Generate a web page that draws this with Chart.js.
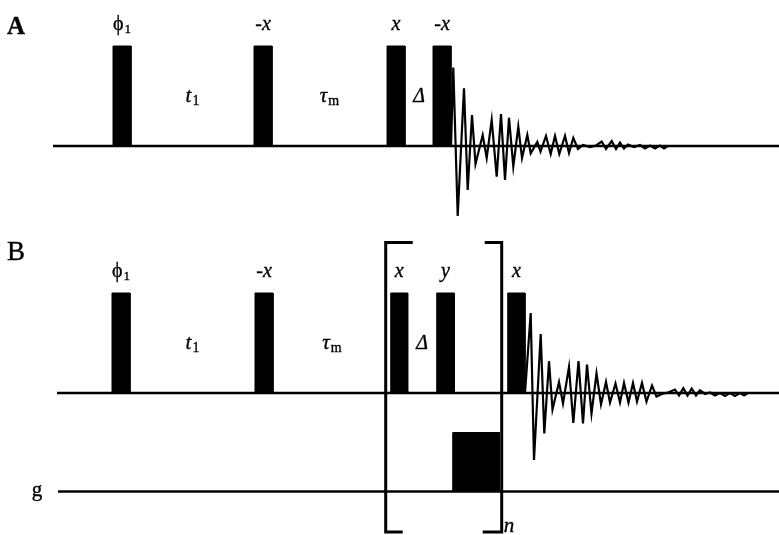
<!DOCTYPE html>
<html>
<head>
<meta charset="utf-8">
<script src="https://cdn.jsdelivr.net/npm/chart.js@4.4.1/dist/chart.umd.min.js"></script>
<style>
  html, body { margin: 0; padding: 0; background: #fff; }
  canvas { display: block; }
</style>
</head>
<body>
<canvas id="seq" width="779" height="535"></canvas>
<script>
// Pulse sequence diagram. Time runs in arbitrary units along x;
// amplitudes are given relative to each channel's baseline (nominal RF pulse = 1).

// Sequence A: phi1 - t1 - (-x) - tau_m - x - Delta - (-x) - acquire
const pulseStartA = [113, 254, 387, 433];
const pulseEndA   = [131, 272, 405, 451];
const pulsePhaseA = ['ϕ', '-x', 'x', '-x'];
const pulseSubA   = ['1', '', '', ''];
const delayNameA  = ['t', 'τ', 'Δ'];
const delaySubA   = ['1', 'm', ''];

// FID recorded after the last pulse of A
const fidTimeA = [451, 453.3, 457.7, 464, 467.7, 472, 475.5, 482.7, 486.7, 491.7,
                  496.7, 501, 505, 509, 513.3, 518.3, 522, 527.3, 530.7, 537.3,
                  540.5, 546, 550.7, 555, 559.3, 565, 569, 573.3, 578, 583,
                  590, 596, 601.7, 606, 611.7, 616, 620, 624, 628, 634,
                  640, 645, 650, 655, 660, 664, 668];
const fidAmpA  = [0, 0.785, -0.70, 0.577, -0.44, 0.31, -0.18, 0.11, -0.12, 0.26,
                  -0.307, 0.32, -0.34, 0.283, -0.207, 0.193, -0.12, 0.11, -0.073, 0.04,
                  -0.057, 0.10, -0.08, 0.10, -0.08, 0.10, -0.07, 0.08, -0.03, 0.01,
                  -0.01, 0.005, 0.045, -0.03, 0.05, -0.03, 0.035, -0.025, 0.015, -0.01,
                  0.01, -0.025, 0.005, -0.025, 0.005, -0.025, 0];

// Sequence B: phi1 - t1 - (-x) - tau_m - [x - Delta - y - gradient]n - x - acquire
const pulseStartB = [112, 255, 390.7, 436.7, 507.7];
const pulseEndB   = [130, 273, 407.7, 454.3, 525];
const pulsePhaseB = ['ϕ', '-x', 'x', 'y', 'x'];
const pulseSubB   = ['1', '', '', '', ''];
const delayNameB  = ['t', 'τ', 'Δ'];
const delaySubB   = ['1', 'm', ''];

// Field gradient pulse on the g channel (inside the repeated block)
const gradStart = 452.7;
const gradEnd   = 499.3;
const gradAmp   = 0.59;

// Repeated block [ ... ]n
const loopStart = 385.7;
const loopEnd   = 501.7;
const loopCount = 'n';

const fidTimeB = [525, 530.7, 534, 540.7, 544.3, 549, 552.5, 559, 563, 569,
                  573.3, 578.5, 583, 587, 591.5, 596.5, 601, 606, 610, 615.5,
                  620, 624, 628.5, 633, 637, 642, 646.5, 652, 656.5, 662,
                  668, 675, 679, 683.3, 687.5, 691.7, 696, 700, 705, 710,
                  715, 720, 725, 730, 735, 740, 744, 748];
const fidAmpB  = [0, 0.80, -0.67, 0.59, -0.405, 0.318, -0.165, 0.11, -0.105, 0.26,
                  -0.30, 0.318, -0.305, 0.285, -0.205, 0.195, -0.115, 0.11, -0.095, 0.095,
                  -0.095, 0.10, -0.095, 0.10, -0.085, 0.10, -0.085, 0.075, -0.035, -0.01,
                  0.005, 0.035, -0.025, 0.048, -0.025, 0.045, -0.025, 0.028, -0.01, 0.005,
                  -0.025, 0, -0.03, 0, -0.03, 0, -0.025, 0];

// Channel start times (A rf, B rf, B gradient) and common end
const channelStart = [53, 57, 58];
const channelEnd = 779;

// ---- layout: vertical placement of each channel ----
const BASE_A = 0;
const BASE_B = -2.47;
const BASE_G = -3.455;
const PULSE_H = 1;
const LOOP_TOP = 1.506;    // bracket extent relative to channel B
const LOOP_BOT = -1.39;

const INK = '#000';
const SERIF = '"Liberation Serif", "DejaVu Serif", serif';

function lineSet(points, width) {
  return {
    data: points, borderColor: INK, borderWidth: width, pointRadius: 0,
    fill: false, tension: 0, borderCapStyle: 'butt', borderJoinStyle: 'miter'
  };
}
function blockSet(t0, t1, base, h) {
  return {
    data: [{x: t0, y: base}, {x: t0, y: base + h}, {x: t1, y: base + h}, {x: t1, y: base}],
    borderColor: INK, backgroundColor: INK, borderWidth: 1, pointRadius: 0,
    fill: {value: base}, tension: 0
  };
}
function fidSet(times, amps, base) {
  return lineSet(times.map((t, i) => ({x: t, y: base + amps[i]})), 2.2);
}

const datasets = [];
// channel baselines
[BASE_A, BASE_B, BASE_G].forEach((b, i) => {
  datasets.push(lineSet([{x: channelStart[i], y: b}, {x: channelEnd, y: b}], 2.4));
});
// rf pulses
pulseStartA.forEach((s, i) => datasets.push(blockSet(s, pulseEndA[i], BASE_A, PULSE_H)));
pulseStartB.forEach((s, i) => datasets.push(blockSet(s, pulseEndB[i], BASE_B, PULSE_H)));
// gradient
datasets.push(blockSet(gradStart, gradEnd, BASE_G, gradAmp));
// FIDs
datasets.push(fidSet(fidTimeA, fidAmpA, BASE_A));
datasets.push(fidSet(fidTimeB, fidAmpB, BASE_B));
// loop brackets
const loopTopV = BASE_B + LOOP_TOP, loopBotV = BASE_B + LOOP_BOT;
datasets.push(lineSet([{x: loopStart + 27, y: loopTopV}, {x: loopStart, y: loopTopV},
                       {x: loopStart, y: loopBotV}, {x: loopStart + 17, y: loopBotV}], 3));
datasets.push(lineSet([{x: loopEnd - 17, y: loopTopV}, {x: loopEnd, y: loopTopV},
                       {x: loopEnd, y: loopBotV}, {x: loopEnd - 19, y: loopBotV}], 3));

// ---- text labels ----
const seqText = {
  id: 'seqText',
  afterDatasetsDraw(chart) {
    const {ctx} = chart;
    const xs = chart.scales.x, ys = chart.scales.y;
    const px = t => xs.getPixelForValue(t);
    const py = v => ys.getPixelForValue(v);
    ctx.save();
    ctx.fillStyle = '#000';
    ctx.strokeStyle = '#000';
    ctx.lineWidth = 0.35;
    ctx.lineJoin = 'round';
    ctx.textBaseline = 'alphabetic';
    ctx.textAlign = 'left';

    // slightly heavy print: fill plus a hairline outline
    function ink(s, x, y) { ctx.fillText(s, x, y); ctx.strokeText(s, x, y); }

    function put(main, sub, cx, by, font, subFont, centered) {
      ctx.font = font;
      const w1 = ctx.measureText(main).width;
      let w2 = 0;
      if (sub) { ctx.font = subFont; w2 = ctx.measureText(sub).width + 1; }
      const left = centered ? cx - (w1 + w2) / 2 : cx;
      ctx.font = font;
      ink(main, left, by);
      if (sub) { ctx.font = subFont; ink(sub, left + w1 + 1, by + 3); }
    }
    const phaseFont = s => (s === 'ϕ' ? '20px ' : 'italic 20px ') + SERIF;

    function pulses(starts, ends, names, subs, base) {
      starts.forEach((s, i) => {
        const cx = (px(s) + px(ends[i])) / 2;
        put(names[i], subs[i], cx, py(base + PULSE_H) - 16, phaseFont(names[i]), '13px ' + SERIF, true);
      });
    }
    function delays(starts, ends, names, subs, base) {
      names.forEach((n, i) => {
        const cx = (px(ends[i]) + px(starts[i + 1])) / 2;
        const font = n === 'Δ' ? 'italic 20px ' + SERIF : 'italic 21px ' + SERIF;
        put(n, subs[i], cx, py(base + 0.44 * PULSE_H), font, '14px ' + SERIF, true);
      });
    }
    pulses(pulseStartA, pulseEndA, pulsePhaseA, pulseSubA, BASE_A);
    pulses(pulseStartB, pulseEndB, pulsePhaseB, pulseSubB, BASE_B);
    delays(pulseStartA, pulseEndA, delayNameA, delaySubA, BASE_A);
    delays(pulseStartB, pulseEndB, delayNameB, delaySubB, BASE_B);

    // panel letters and channel name
    put('A', '', px(7), py(BASE_A + 1.117), 'bold 25px ' + SERIF, '', false);
    put('B', '', px(7), py(BASE_B + 1.333), '27px ' + SERIF, '', false);
    put('g', '', px(37), py(BASE_G) + 4, '21px ' + SERIF, '', true);
    // loop count
    put(loopCount, '', px(loopEnd) + 2, py(loopBotV), 'italic 21px ' + SERIF, '', false);
    ctx.restore();
  }
};

new Chart(document.getElementById('seq'), {
  type: 'line',
  data: {datasets},
  options: {
    responsive: false,
    animation: false,
    events: [],
    layout: {padding: 0},
    plugins: {legend: {display: false}, tooltip: {enabled: false}},
    scales: {
      x: {type: 'linear', min: 0, max: 779, display: false},
      y: {type: 'linear', min: -3.89, max: 1.46, display: false}
    }
  },
  plugins: [seqText]
});
</script>
</body>
</html>
